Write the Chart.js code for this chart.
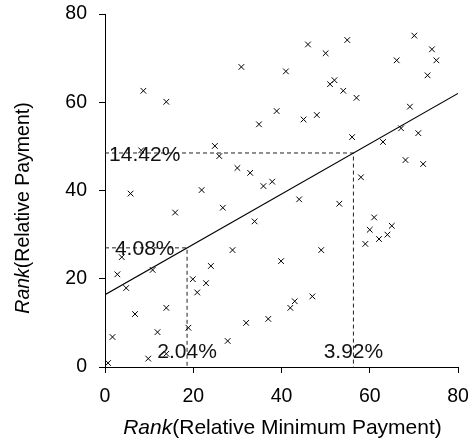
<!DOCTYPE html>
<html>
<head>
<meta charset="utf-8">
<script src="https://cdn.jsdelivr.net/npm/chart.js@4.4.1/dist/chart.umd.min.js"></script>
<style>
  html, body { margin: 0; padding: 0; background: #fff; }
  #wrap { width: 476px; height: 441px; }
</style>
</head>
<body>
<div id="wrap"><canvas id="c" width="476" height="441"></canvas></div>
<script>
// Ranked observations: minimum-payment rank vs payment rank
const rankMinPayment = [0.7, 1.7, 2.8, 3.8, 4.8, 5.8, 6.8, 8.7, 8.2, 9.8, 10.8, 11.9, 13.9, 13.9, 13.9,
  15.9, 18.9, 19.9, 20.9, 21.9, 22.9, 24.0, 24.9, 25.9, 26.7, 27.8, 28.9, 30.0, 30.9, 32.0, 32.9,
  33.9, 34.9, 35.9, 37.0, 37.9, 38.9, 39.9, 41.0, 42.0, 43.0, 44.0, 45.0, 46.0, 47.0, 48.0, 49.0,
  50.0, 51.0, 52.0, 53.1, 54.0, 54.9, 56.0, 57.0, 58.0, 59.0, 60.0, 61.0, 62.1, 63.0, 64.0, 65.0,
  66.1, 67.1, 68.1, 69.1, 70.1, 71.0, 72.1, 73.1, 74.1, 75.1];
const rankPayment = [0.9, 6.8, 21.0, 24.9, 17.9, 39.3, 12.0, 62.6, 49.1, 1.9, 22.0, 7.9, 60.1, 13.4, 3.0,
  35.0, 8.9, 19.9, 16.9, 40.1, 19.0, 22.9, 50.1, 47.8, 36.1, 5.9, 26.5, 45.1, 68.0, 10.0, 44.0,
  33.0, 55.0, 41.0, 10.9, 42.0, 58.0, 24.0, 67.0, 13.4, 14.9, 38.0, 56.1, 73.1, 16.0, 57.1, 26.5,
  71.1, 64.1, 65.0, 37.0, 62.6, 74.1, 52.1, 61.0, 43.0, 27.9, 31.1, 33.9, 29.0, 51.0, 30.0, 32.0,
  69.5, 54.1, 46.9, 59.0, 75.1, 53.0, 46.0, 66.1, 72.0, 69.5];

// Fitted line end points
const fitX = [0, 80];
const fitY = [16.4, 62.0];

// Reference points on the fitted line, with their share labels
const guideX = [18.6, 56.3];
const guideY = [27.0, 48.5];
const labelsOnY = ['4.08%', '14.42%'];
const labelsOnX = ['2.04%', '3.92%'];
const labelAnchorX = 9;

const axisTicks = [0, 20, 40, 60, 80];

const FONT = "'Liberation Sans', Arial, Helvetica, sans-serif";
Chart.defaults.font.family = FONT;
Chart.defaults.color = '#000';

const points = rankMinPayment.map((x, i) => ({ x: x, y: rankPayment[i] }));
const fitPoints = fitX.map((x, i) => ({ x: x, y: fitY[i] }));
const guideSets = guideX.map((gx, i) => ({
  type: 'line',
  data: [{ x: 0, y: guideY[i] }, { x: gx, y: guideY[i] }, { x: gx, y: 0 }],
  borderColor: '#222',
  borderWidth: 1,
  borderDash: [4, 3],
  pointRadius: 0,
  fill: false,
  tension: 0,
  order: 3
}));

const guideText = {
  id: 'guideText',
  afterDatasetsDraw(chart) {
    const { ctx, scales: { x, y }, chartArea } = chart;
    ctx.save();
    ctx.font = '21px ' + FONT;
    ctx.fillStyle = '#111';
    ctx.textAlign = 'center';
    ctx.textBaseline = 'alphabetic';
    const capHalf = 21 * 0.358;
    guideY.forEach((gy, i) => {
      ctx.fillText(labelsOnY[i], x.getPixelForValue(labelAnchorX), y.getPixelForValue(gy) + capHalf);
    });
    guideX.forEach((gx, i) => {
      ctx.fillText(labelsOnX[i], x.getPixelForValue(gx), chartArea.bottom - 9.5);
    });
    ctx.restore();
  }
};

function drawMixed(ctx, parts, startX, baseY) {
  let cx = startX;
  parts.forEach(p => {
    ctx.font = p.font;
    ctx.fillText(p.text, cx, baseY);
    cx += ctx.measureText(p.text).width;
  });
}
function mixedWidth(ctx, parts) {
  let w = 0;
  parts.forEach(p => { ctx.font = p.font; w += ctx.measureText(p.text).width; });
  return w;
}

const axisTitles = {
  id: 'axisTitles',
  afterDraw(chart) {
    const { ctx, chartArea } = chart;
    ctx.save();
    ctx.fillStyle = '#000';
    ctx.textAlign = 'left';
    ctx.textBaseline = 'alphabetic';

    const xs = 21;
    const xParts = [
      { text: 'Rank', font: 'italic ' + xs + 'px ' + FONT },
      { text: '(Relative Minimum Payment)', font: xs + 'px ' + FONT }
    ];
    const xw = mixedWidth(ctx, xParts);
    const xc = (chartArea.left + chartArea.right) / 2 + 1;
    drawMixed(ctx, xParts, xc - xw / 2, 434);

    const ys = 19.5;
    const yParts = [
      { text: 'Rank', font: 'italic ' + ys + 'px ' + FONT },
      { text: '(Relative Payment)', font: ys + 'px ' + FONT }
    ];
    const yw = mixedWidth(ctx, yParts);
    ctx.translate(29, 208);
    ctx.rotate(-Math.PI / 2);
    drawMixed(ctx, yParts, -yw / 2, 0);
    ctx.restore();
  }
};

function axisOptions(fitFn) {
  return {
    type: 'linear',
    min: 0,
    max: 80,
    afterBuildTicks: s => { s.ticks = axisTicks.map(v => ({ value: v })); },
    afterFit: s => {
      fitFn(s);
      s.paddingTop = 0; s.paddingBottom = 0; s.paddingLeft = 0; s.paddingRight = 0;
    },
    grid: { drawOnChartArea: false, drawTicks: true, tickLength: 6, color: '#000', lineWidth: 1 },
    border: { display: true, color: '#000', width: 1 },
    ticks: { font: { size: 19.5 }, color: '#000', padding: 12, maxRotation: 0, autoSkip: false },
    title: { display: false }
  };
}

new Chart(document.getElementById('c'), {
  type: 'scatter',
  data: {
    datasets: [
      {
        data: points,
        pointStyle: 'crossRot',
        pointRadius: 4,
        borderColor: '#000',
        backgroundColor: '#000',
        borderWidth: 1,
        order: 1
      },
      {
        type: 'line',
        data: fitPoints,
        borderColor: '#000',
        borderWidth: 1.2,
        pointRadius: 0,
        fill: false,
        tension: 0,
        order: 2
      },
      ...guideSets
    ]
  },
  options: {
    responsive: false,
    animation: false,
    events: [],
    layout: { padding: { left: 0, top: 14, right: 18, bottom: 0 } },
    plugins: { legend: { display: false }, tooltip: { enabled: false } },
    scales: {
      x: axisOptions(s => { s.height = 74; }),
      y: axisOptions(s => { s.width = 105; })
    }
  },
  plugins: [guideText, axisTitles]
});
</script>
</body>
</html>
